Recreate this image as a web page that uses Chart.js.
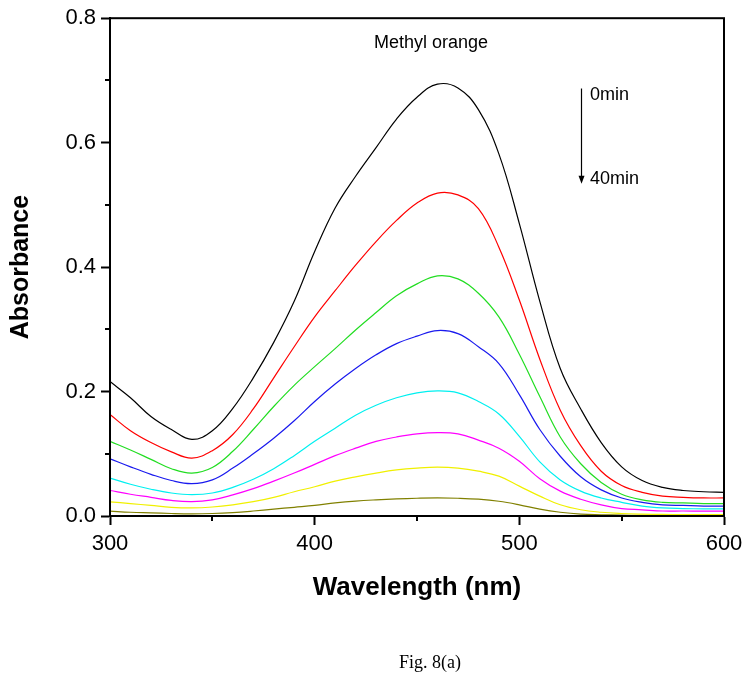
<!DOCTYPE html>
<html>
<head>
<meta charset="utf-8">
<script src="https://cdn.jsdelivr.net/npm/chart.js@4.4.0/dist/chart.umd.min.js"></script>
<style>
  html, body { margin: 0; padding: 0; background: #fff; }
  #wrap { position: relative; width: 751px; height: 683px; }
  #caption {
    position: absolute; left: 0; width: 860px; top: 652px;
    text-align: center; font-family: 'Liberation Serif', 'Times New Roman', serif;
    font-size: 18px; color: #000;
  }
</style>
</head>
<body>
<div id="wrap">
  <canvas id="chart" width="751" height="683"></canvas>
  <div id="caption">Fig. 8(a)</div>
</div>
<script>
const wavelengths = [300, 310, 320, 330, 340, 350, 360, 370, 380, 390, 400, 410, 420, 430, 440, 450,
  460, 470, 480, 490, 500, 510, 520, 530, 540, 550, 560, 570, 580, 590, 600];

const min0 = [0.216, 0.190, 0.160, 0.139, 0.123, 0.137, 0.173, 0.222, 0.279, 0.345, 0.425, 0.495, 0.546, 0.592, 0.638, 0.673,
  0.694, 0.688, 0.653, 0.582, 0.470, 0.345, 0.237, 0.172, 0.118, 0.079, 0.057, 0.046, 0.041, 0.039, 0.038];
const min5 = [0.163, 0.137, 0.118, 0.103, 0.093, 0.105, 0.131, 0.172, 0.222, 0.272, 0.320, 0.362, 0.403, 0.441, 0.475, 0.503,
  0.519, 0.516, 0.494, 0.432, 0.347, 0.252, 0.170, 0.113, 0.072, 0.049, 0.038, 0.032, 0.030, 0.029, 0.029];
const min10 = [0.120, 0.106, 0.091, 0.076, 0.069, 0.078, 0.104, 0.139, 0.176, 0.210, 0.240, 0.269, 0.299, 0.327, 0.354, 0.373,
  0.386, 0.381, 0.358, 0.320, 0.260, 0.192, 0.127, 0.084, 0.054, 0.035, 0.026, 0.022, 0.021, 0.020, 0.020];
const min15 = [0.092, 0.079, 0.067, 0.057, 0.052, 0.058, 0.077, 0.100, 0.125, 0.153, 0.184, 0.212, 0.237, 0.259, 0.277, 0.289,
  0.298, 0.293, 0.272, 0.245, 0.195, 0.139, 0.096, 0.063, 0.042, 0.029, 0.022, 0.018, 0.017, 0.016, 0.016];
const min20 = [0.061, 0.051, 0.043, 0.037, 0.0345, 0.037, 0.046, 0.059, 0.076, 0.097, 0.120, 0.141, 0.162, 0.178, 0.190, 0.198,
  0.201, 0.198, 0.184, 0.164, 0.128, 0.087, 0.058, 0.040, 0.029, 0.022, 0.016, 0.013, 0.012, 0.0115, 0.0115];
const min25 = [0.041, 0.035, 0.030, 0.025, 0.023, 0.026, 0.034, 0.044, 0.056, 0.069, 0.083, 0.097, 0.109, 0.120, 0.127, 0.132,
  0.134, 0.132, 0.122, 0.109, 0.088, 0.060, 0.040, 0.027, 0.018, 0.012, 0.010, 0.008, 0.008, 0.0077, 0.0077];
const min30 = [0.0227, 0.020, 0.017, 0.014, 0.013, 0.0145, 0.018, 0.023, 0.030, 0.039, 0.047, 0.056, 0.063, 0.069, 0.074, 0.077,
  0.0785, 0.077, 0.072, 0.064, 0.048, 0.032, 0.018, 0.010, 0.006, 0.004, 0.003, 0.0025, 0.0024, 0.0024, 0.0024];
const min40 = [0.0077, 0.006, 0.005, 0.004, 0.0035, 0.004, 0.0055, 0.008, 0.011, 0.014, 0.017, 0.021, 0.024, 0.026, 0.0275, 0.0285,
  0.029, 0.0285, 0.027, 0.0237, 0.018, 0.011, 0.006, 0.003, 0.002, 0.0015, 0.001, 0.001, 0.001, 0.001, 0.001];

const seriesList = [min0, min5, min10, min15, min20, min25, min30, min40];
const seriesColors = ['#000000', '#ff0000', '#22dd22', '#1a1aee', '#00f0f0', '#ff00ff', '#f0f000', '#808000'];

const FONT = "'Liberation Sans', Arial, Helvetica, sans-serif";

// box round the plot, minor ticks and the in-plot notes
const framePlugin = {
  id: 'frame',
  afterDatasetsDraw(chart) {
    const { ctx, chartArea: a, scales: { x, y } } = chart;
    ctx.save();
    ctx.strokeStyle = '#000';
    ctx.lineWidth = 2;
    ctx.strokeRect(a.left, a.top, a.right - a.left, a.bottom - a.top);

    ctx.beginPath();
    [0.1, 0.3, 0.5, 0.7].forEach((v) => {
      const py = Math.round(y.getPixelForValue(v));
      ctx.moveTo(a.left - 5, py);
      ctx.lineTo(a.left, py);
    });
    [350, 450, 550].forEach((v) => {
      const px = Math.round(x.getPixelForValue(v));
      ctx.moveTo(px, a.bottom);
      ctx.lineTo(px, a.bottom + 5);
    });
    ctx.stroke();

    ctx.fillStyle = '#000';
    ctx.font = `18px ${FONT}`;
    ctx.textBaseline = 'middle';
    ctx.textAlign = 'center';
    ctx.fillText('Methyl orange', x.getPixelForValue(456.8), y.getPixelForValue(0.760));

    const ax = Math.round(x.getPixelForValue(530)) + 0.5;
    const ay0 = y.getPixelForValue(0.687);
    const ay1 = y.getPixelForValue(0.534);
    ctx.lineWidth = 1.2;
    ctx.beginPath();
    ctx.moveTo(ax, ay0);
    ctx.lineTo(ax, ay1 - 7);
    ctx.stroke();
    ctx.beginPath();
    ctx.moveTo(ax - 3, ay1 - 8);
    ctx.lineTo(ax + 3, ay1 - 8);
    ctx.lineTo(ax, ay1);
    ctx.closePath();
    ctx.fill();

    ctx.textAlign = 'left';
    ctx.fillText('0min', x.getPixelForValue(534.5), y.getPixelForValue(0.677));
    ctx.fillText('40min', x.getPixelForValue(534.5), y.getPixelForValue(0.542));
    ctx.restore();
  }
};

new Chart(document.getElementById('chart').getContext('2d'), {
  type: 'line',
  data: {
    datasets: seriesList.map((values, i) => ({
      data: values.map((v, j) => ({ x: wavelengths[j], y: v })),
      borderColor: seriesColors[i],
      borderWidth: 1.2,
      pointRadius: 0,
      fill: false,
      tension: 0.4
    }))
  },
  options: {
    responsive: false,
    animation: false,
    layout: { padding: { top: 17, right: 27, left: 0, bottom: 0 } },
    plugins: {
      legend: { display: false },
      tooltip: { enabled: false }
    },
    scales: {
      x: {
        type: 'linear',
        min: 300,
        max: 600,
        afterFit: (scale) => { scale.height = 167; },
        ticks: { stepSize: 100, color: '#000', padding: 6, font: { family: FONT, size: 22 }, maxRotation: 0 },
        grid: { drawOnChartArea: false, tickLength: 9, tickColor: '#000', tickWidth: 2 },
        border: { display: true, color: '#000', width: 2 },
        title: {
          display: true,
          text: 'Wavelength (nm)',
          color: '#000',
          font: { family: FONT, size: 26, weight: 'bold' },
          padding: { top: 0, bottom: 80 }
        }
      },
      y: {
        min: 0,
        max: 0.8,
        afterFit: (scale) => { scale.width = 110; },
        ticks: { stepSize: 0.2, color: '#000', padding: 5, font: { family: FONT, size: 22 }, callback: (v) => v.toFixed(1) },
        grid: { drawOnChartArea: false, tickLength: 9, tickColor: '#000', tickWidth: 2 },
        border: { display: true, color: '#000', width: 2 },
        title: {
          display: true,
          text: 'Absorbance',
          color: '#000',
          font: { family: FONT, size: 25, weight: 'bold' },
          padding: { top: 6, bottom: 0 }
        }
      }
    }
  },
  plugins: [framePlugin]
});
</script>
</body>
</html>
